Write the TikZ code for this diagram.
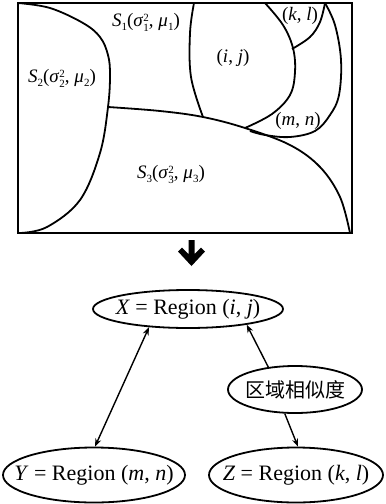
\documentclass[tikz,border=0pt]{standalone}
\usepackage{fontspec}
\setmainfont{Liberation Serif}
\newfontfamily\cjk{Noto Sans CJK SC}
\usetikzlibrary{shapes.geometric,arrows.meta}
\newcommand\sigsq[1]{\textit{σ}\raisebox{-0.1ex}{\fontsize{11}{10}\selectfont\renewcommand\arraystretch{0.9}\setlength\tabcolsep{0pt}\begin{tabular}{l}2\\#1\end{tabular}}}
\newcommand\sbx[1]{\raisebox{-0.45ex}{\fontsize{11}{11}\selectfont #1}}
\newcommand\zw[1]{\makebox[0pt]{#1}}
\begin{document}
\begin{tikzpicture}[x=1pt,y=-1pt,
  frame/.style={line width=2.1pt},
  bound/.style={line width=1.8pt, smooth, tension=0.6},
  lab/.style={font=\fontsize{19}{22}\selectfont, inner sep=0pt},
  ell/.style={draw, ellipse, line width=1.8pt, inner sep=0pt, font=\fontsize{22}{26}\selectfont},
  link/.style={line width=1.4pt, {Stealth[length=8pt,width=6pt]}-{Stealth[length=8pt,width=6pt]}},
  onelink/.style={line width=1.4pt, -{Stealth[length=8pt,width=6pt]}}]
\useasboundingbox (0,0) rectangle (386,504);
% region map
\draw[frame] (18,3) rectangle (352,233);
\draw[bound] plot coordinates {(18,3) (50,8) (83,23) (100,37) (108,55) (110,75) (108,107) (100,153) (80,200) (47,227) (20,233)};
\draw[bound] plot coordinates {(108,107) (160,111) (203,117) (245,128) (290,145) (320,167) (340,197) (350,233)};
\draw[bound] plot coordinates {(194,3) (190,33) (191,77) (203,117)};
\draw[bound] plot coordinates {(265,3) (283,25) (293,48) (295,72) (290,95) (272,114) (245,128)};
\draw[bound] plot coordinates {(292,49) (310,37) (320,22) (325,3)};
\draw[bound] plot coordinates {(325,3) (335,25) (341,60) (339,95) (330,115) (315,131) (290,137) (265,135) (250,131)};
\node[lab] (s1) at (146,24) {\textit{S}\sbx{1}(\sigsq{1}, \textit{μ}\sbx{1})};
\node[lab] (s2) at (62,80) {\textit{S}\sbx{2}(\sigsq{2}, \textit{μ}\sbx{2})};
\node[lab] (s3) at (171,176) {\textit{S}\sbx{3}(\sigsq{3}, \textit{μ}\sbx{3})};
\node[lab] (ij) at (233,58) {(\textit{i}, \textit{j})};
\node[lab] (kl) at (300,16) {(\textit{k}, \textit{l})};
\node[lab] (mn) at (298,121) {(\textit{m}, \textit{n})};
% block arrow
\fill (188.5,240) -- (194.5,240) -- (194.5,254) -- (201,247.5) -- (205,251.5) -- (191.5,266) -- (178,251.5) -- (182,247.5) -- (188.5,254) -- cycle;
% graph
\node[ell, minimum width=190pt, minimum height=38pt] (X) at (188,309) {\zw{\textit{X} = Region (\textit{i}, \textit{j})}};
\node[ell, minimum width=134pt, minimum height=47pt] (S) at (295,389.5) {\zw{\cjk\fontsize{20}{23}\selectfont 区域相似度}};
\node[ell, minimum width=182pt, minimum height=55pt] (Y) at (94,475) {\zw{\textit{Y} = Region (\textit{m}, \textit{n})}};
\node[ell, minimum width=174pt, minimum height=55pt] (Z) at (296,475) {\zw{\textit{Z} = Region (\textit{k}, \textit{l})}};
\draw[link] (X.205) -- (Y.88);
\draw[onelink] (S.140) -- (X.345);
\draw[onelink] (S.247) -- (Z.86);
\end{tikzpicture}
\end{document}
